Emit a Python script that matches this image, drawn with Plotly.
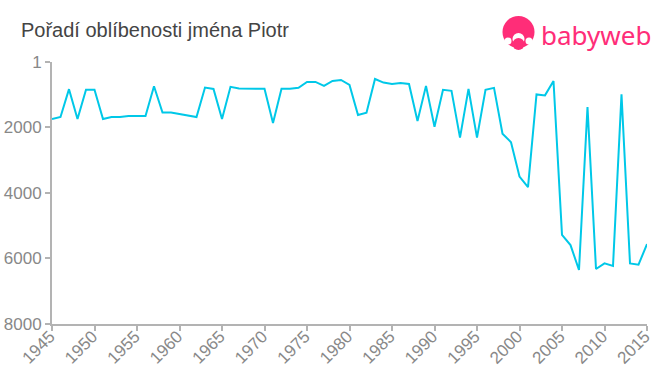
import plotly.graph_objects as go

years = list(range(1945, 2016))
ranks = [1740, 1680, 830, 1740, 850, 850, 1740, 1680, 1680, 1650,
         1650, 1650, 740, 1545, 1545, 1590, 1620, 1680, 780, 825,
         1740, 760, 810, 820, 820, 820, 1860, 820, 820, 790,
         610, 610, 730, 580, 550, 700, 1620, 1550, 520, 630,
         670, 640, 670, 1800, 730, 1980, 850, 880, 2310, 820,
         2310, 850, 790, 2190, 2450, 3500, 3820, 990, 1020, 580,
         5280, 5590, 6350, 1380, 6320, 6150, 6230, 990, 6150, 6190,
         5560]
title_text = "Pořadí oblíbenosti jména Piotr"
brand_text = "babyweb"
y_ticks = [1, 2000, 4000, 6000, 8000]
x_ticks = list(range(1945, 2016, 5))

W, H = 660, 375
L, R, T, B = 52, 647, 62, 324
PINK = "#ff2d78"

def px(x):
    return (x - L) / (R - L)

def py(y):
    return (B - y) / (B - T)

def circle(cx, cy, r, color):
    return dict(type="circle", xref="paper", yref="paper",
                x0=px(cx - r), x1=px(cx + r), y0=py(cy + r), y1=py(cy - r),
                fillcolor=color, line=dict(width=0), layer="above")

fig = go.Figure(go.Scatter(x=years, y=ranks, mode="lines",
                           line=dict(color="#00c8e8", width=2), hoverinfo="skip"))

axis_common = dict(showgrid=False, zeroline=False, showline=True, linecolor="#b3b3b3",
                   linewidth=2, ticks="outside", tickcolor="#b3b3b3", tickwidth=2, ticklen=5,
                   automargin=False,
                   tickfont=dict(family="Liberation Sans", size=17, color="#888888"))

fig.update_xaxes(range=[1945, 2015], tickmode="array", tickvals=x_ticks,
                 ticktext=[str(v) for v in x_ticks], tickangle=-45,
                 ticklabelstandoff=-11, ticklabelshift=-2, **axis_common)
fig.update_yaxes(range=[8000, 1], tickmode="array", tickvals=y_ticks,
                 ticktext=[str(v) for v in y_ticks], **axis_common)

shapes = [
    circle(518.5, 32, 16, PINK),
    circle(508, 41, 3.5, "white"),
    circle(529, 41, 3.5, "white"),
    circle(518.5, 39, 6, "white"),
    circle(518.5, 44, 6, PINK),
]

fig.update_layout(
    width=W, height=H, autosize=False,
    paper_bgcolor="white", plot_bgcolor="white", showlegend=False,
    margin=dict(l=L, r=W - R, t=T, b=H - B, autoexpand=False),
    shapes=shapes,
    annotations=[
        dict(text=title_text, xref="paper", yref="paper", x=px(20), y=py(30),
             xanchor="left", yanchor="middle", showarrow=False, xshift=-1,
             font=dict(family="Liberation Sans", size=20, color="#444444")),
        dict(text=brand_text, xref="paper", yref="paper", x=px(539), y=py(35),
             xanchor="left", yanchor="middle", showarrow=False,
             font=dict(family="Noto Sans", size=26, color=PINK)),
    ],
)

fig.write_html("out.html", config={"displayModeBar": False},
               post_script="document.body.style.margin='0';")
